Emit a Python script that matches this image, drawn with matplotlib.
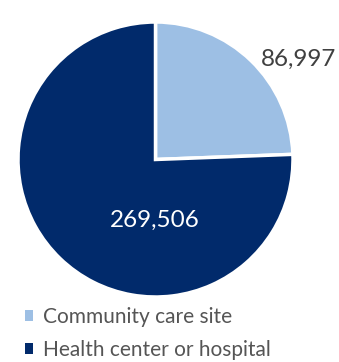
import matplotlib.pyplot as plt

# data
categories = ["Community care site", "Health center or hospital"]
values = [86997, 269506]
value_labels = ["86,997", "269,506"]
colors = ["#9DBFE4", "#012A6B"]

W, H = 339, 362
fig = plt.figure(figsize=(W / 100, H / 100), dpi=100)
ax = fig.add_axes([0, 0, 1, 1])

# pie in pixel coords (y measured from bottom)
cx, cy, r = 155.5, H - 159.5, 137.5
wedges, _ = ax.pie(values, colors=colors, startangle=90, counterclock=False,
                   center=(cx, cy), radius=r, frame=True,
                   wedgeprops=dict(edgecolor="white", linewidth=2.5))
ax.set_xlim(0, W)
ax.set_ylim(0, H)
ax.set_aspect("equal")
ax.axis("off")

font = "Lato"
ax.text(299, H - 59, value_labels[0], ha="center", va="center",
        fontsize=17.5, color="#404040", family=font)
ax.text(155, H - 220, value_labels[1], ha="center", va="center",
        fontsize=17.5, color="white", family=font)

leg = ax.legend(wedges, categories, loc="upper left",
                bbox_to_anchor=(25 / W, (H - 307) / H), frameon=False,
                prop=dict(family=font, size=15), labelcolor="#555555",
                handlelength=0.4, handleheight=0.4, handletextpad=0.45,
                labelspacing=0.62, borderaxespad=0, borderpad=0)
for h in leg.legend_handles:
    h.set_edgecolor("none")

fig.savefig("out.png", dpi=100)
